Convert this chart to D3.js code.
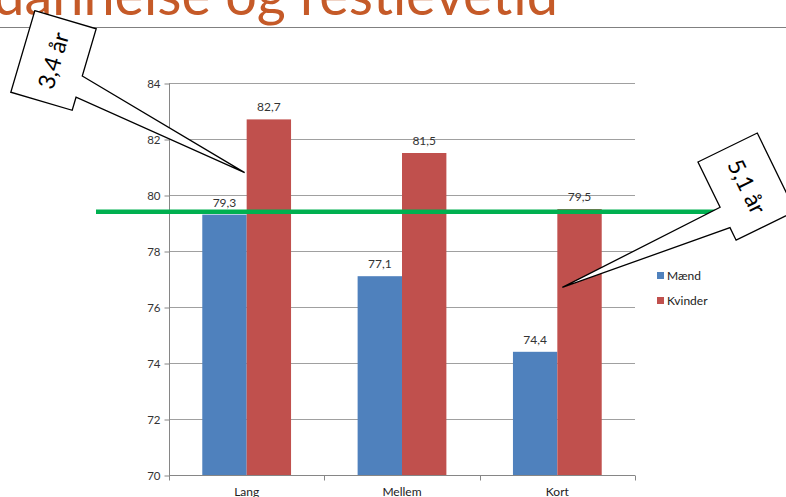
<!DOCTYPE html>
<html>
<head>
<meta charset="utf-8">
<script src="https://cdn.jsdelivr.net/npm/d3@7"></script>
<style>
  body { margin: 0; background: #fff; }
  text { font-family: Lato, 'Open Sans', sans-serif; }
</style>
</head>
<body>
<div id="viz"></div>
<script>
const categories = ['Lang', 'Mellem', 'Kort'];
const seriesNames = ['Mænd', 'Kvinder'];
const maend = [79.3, 77.1, 74.4];
const kvinder = [82.7, 81.5, 79.5];
const yTicks = [70, 72, 74, 76, 78, 80, 82, 84];
const gapLabels = ['3,4 år', '5,1 år'];
const gapCategories = ['Lang', 'Kort'];
const gapTipValues = [80.8, 76.7];
const referenceLevel = 79.4;
const titleText = 'Uddannelse og restlevetid';

(() => {
  let width = 786, height = 497;
  let plot = { left: 169, right: 635, top: 83, bottom: 475 };
  let colors = ['#4F81BD', '#C0504D'];

  let svg = d3.select('#viz')
    .append('svg')
    .attr('width', width)
    .attr('height', height);

  // title, cut off at the top like on the slide
  let title = svg.append('text')
    .attr('x', 558)
    .attr('y', 15)
    .attr('text-anchor', 'end')
    .style('fill', '#C55A28')
    .style('font-size', '52px')
    .text(titleText);

  // scale font so "restlevetid" spans about 258px
  let lastWord = titleText.lastIndexOf(' ') + 1;
  let partW = title.node().getSubStringLength(lastWord, titleText.length - lastWord);
  title.style('font-size', (52 * 258 / partW) + 'px');

  svg.append('line')
    .attr('x1', 0).attr('x2', width)
    .attr('y1', 27.5).attr('y2', 27.5)
    .style('stroke', '#808080')
    .style('stroke-width', 1);

  let y = d3.scaleLinear()
    .domain([70, 84])
    .range([plot.bottom, plot.top]);

  let x0 = d3.scaleBand()
    .domain(categories)
    .range([plot.left, plot.right]);

  let gap = x0.bandwidth() * 1.5 / 3.5 / 2;
  let x1 = d3.scaleBand()
    .domain(seriesNames)
    .range([gap, x0.bandwidth() - gap]);

  // gridlines
  svg.append('g')
    .selectAll('line')
    .data(yTicks.filter(d => d > 70))
    .join('line')
    .attr('x1', plot.left).attr('x2', plot.right)
    .attr('y1', d => Math.round(y(d)) + 0.5)
    .attr('y2', d => Math.round(y(d)) + 0.5)
    .style('stroke', '#A0A0A0');

  // y axis
  let yAxis = svg.append('g')
    .attr('transform', `translate(${plot.left + 0.5},0.5)`)
    .call(d3.axisLeft(y).tickValues(yTicks).tickSize(5).tickPadding(4));
  yAxis.select('.domain').attr('stroke', '#868686').attr('d', `M0,${plot.top}V${plot.bottom}`);
  yAxis.selectAll('.tick line').attr('stroke', '#868686');
  yAxis.selectAll('.tick text')
    .style('font-size', '11.5px')
    .style('fill', '#333')
    .style('font-family', 'Lato, sans-serif');

  // x axis
  let xAxisG = svg.append('g')
    .attr('transform', `translate(0,${plot.bottom + 0.5})`);
  xAxisG.append('line')
    .attr('x1', plot.left).attr('x2', plot.right)
    .style('stroke', '#868686');
  xAxisG.selectAll('.tickmark')
    .data(categories.map(c => x0(c)).concat([plot.right]))
    .join('line')
    .attr('class', 'tickmark')
    .attr('x1', d => Math.round(d) + 0.5).attr('x2', d => Math.round(d) + 0.5)
    .attr('y1', 0).attr('y2', 5)
    .style('stroke', '#868686');
  xAxisG.selectAll('.catlabel')
    .data(categories)
    .join('text')
    .attr('class', 'catlabel')
    .attr('x', d => x0(d) + x0.bandwidth() / 2)
    .attr('y', 20)
    .attr('text-anchor', 'middle')
    .style('font-size', '12px')
    .style('fill', '#222')
    .text(d => d);

  // bars
  let rows = categories.map((c, i) => ({ cat: c, values: [maend[i], kvinder[i]] }));

  let groups = svg.selectAll('.bar-group')
    .data(rows)
    .join('g')
    .attr('class', 'bar-group')
    .attr('transform', d => `translate(${x0(d.cat)},0)`);

  groups.selectAll('rect')
    .data(d => d.values.map((v, j) => ({ name: seriesNames[j], v: v, j: j })))
    .join('rect')
    .attr('x', d => x1(d.name))
    .attr('y', d => y(d.v))
    .attr('width', x1.bandwidth())
    .attr('height', d => y(70) - y(d.v))
    .style('fill', d => colors[d.j]);

  groups.selectAll('.val')
    .data(d => d.values.map((v, j) => ({ name: seriesNames[j], v: v })))
    .join('text')
    .attr('class', 'val')
    .attr('x', d => x1(d.name) + x1.bandwidth() / 2)
    .attr('y', d => y(d.v) - 8)
    .attr('text-anchor', 'middle')
    .style('font-size', '12px')
    .style('fill', '#333')
    .text(d => d3.format('.1f')(d.v).replace('.', ','));

  // legend
  let legend = svg.selectAll('.legend')
    .data(seriesNames)
    .join('g')
    .attr('class', 'legend')
    .attr('transform', (d, i) => `translate(657,${272 + i * 25})`);
  legend.append('rect')
    .attr('width', 7).attr('height', 7)
    .style('fill', (d, i) => colors[i]);
  legend.append('text')
    .attr('x', 10)
    .attr('y', 3.5)
    .attr('dy', '0.35em')
    .style('font-size', '12px')
    .style('fill', '#222')
    .text(d => d);

  // green reference line
  svg.append('line')
    .attr('x1', 96).attr('x2', 735)
    .attr('y1', y(referenceLevel)).attr('y2', y(referenceLevel))
    .style('stroke', '#00B050')
    .style('stroke-width', 4.5);

  // callouts
  let boxes = [
    { cx: 53.5, cy: 60.5, w: 64, h: 85, angle: 16.4, side: 'right', textRot: -90, dx: -2 },
    { cx: 746.7, cy: 186.6, w: 66, h: 87, angle: -26, side: 'left', textRot: 90, dx: 5 }
  ];

  boxes.forEach((b, i) => {
    let tip = [x0(gapCategories[i]) + x1('Kvinder') + b.dx, y(gapTipValues[i])];
    callout(b, tip, gapLabels[i]);
  });

  function callout(b, tip, label) {
    let g = svg.append('g')
      .attr('transform', `translate(${b.cx},${b.cy}) rotate(${b.angle})`);
    let a = -b.angle * Math.PI / 180;
    let dx = tip[0] - b.cx, dy = tip[1] - b.cy;
    let lx = dx * Math.cos(a) - dy * Math.sin(a);
    let ly = dx * Math.sin(a) + dy * Math.cos(a);
    let hw = b.w / 2, hh = b.h / 2;
    let y1 = -hh + b.h * 0.58, y2 = -hh + b.h * 0.84;
    let pts;
    if (b.side === 'right') {
      pts = [[-hw, -hh], [hw, -hh], [hw, y1], [lx, ly], [hw, y2], [hw, hh], [-hw, hh]];
    } else {
      pts = [[-hw, -hh], [hw, -hh], [hw, hh], [-hw, hh], [-hw, y2], [lx, ly], [-hw, y1]];
    }
    g.append('path')
      .attr('d', d3.line()(pts) + 'Z')
      .style('fill', '#fff')
      .style('stroke', '#000')
      .style('stroke-width', 1.3)
      .style('stroke-linejoin', 'miter');
    g.append('text')
      .attr('transform', `rotate(${b.textRot})`)
      .attr('text-anchor', 'middle')
      .attr('dy', '0.35em')
      .style('font-size', '23px')
      .style('fill', '#000')
      .text(label);
  }
})();
</script>
</body>
</html>
